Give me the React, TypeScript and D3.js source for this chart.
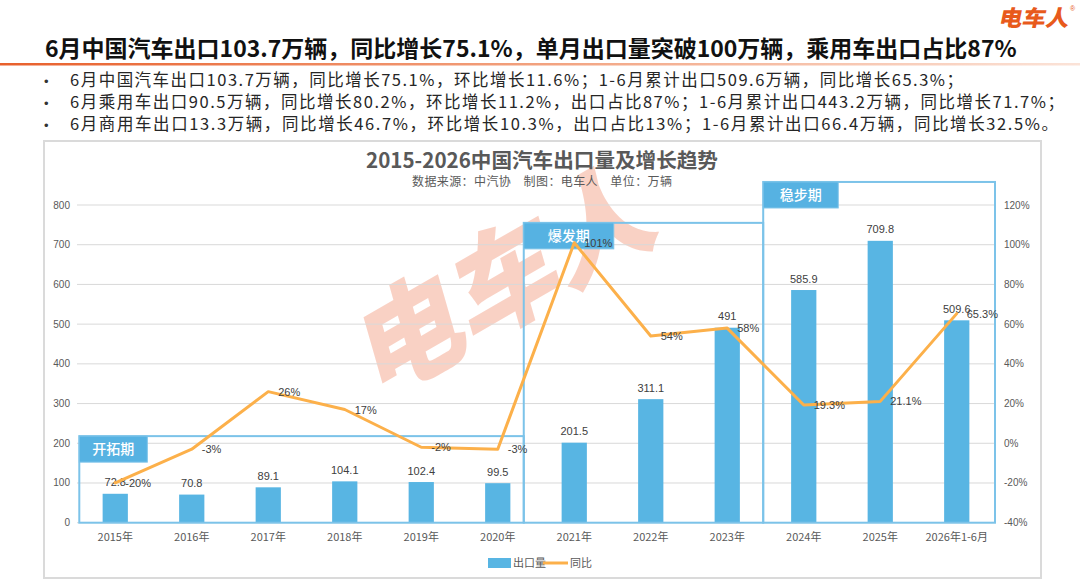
import React from 'react';
import * as d3 from 'd3';

const categories = ['2015年', '2016年', '2017年', '2018年', '2019年', '2020年', '2021年', '2022年', '2023年', '2024年', '2025年', '2026年1-6月'];
const exportVolume = [72.8, 70.8, 89.1, 104.1, 102.4, 99.5, 201.5, 311.1, 491, 585.9, 709.8, 509.6];
const yoyGrowth = [-20, -3, 26, 17, -2, -3, 101, 54, 58, 19.3, 21.1, 65.3];
const yoyLabels = ['-20%', '-3%', '26%', '17%', '-2%', '-3%', '101%', '54%', '58%', '19.3%', '21.1%', '65.3%'];
const leftTicks = [0, 100, 200, 300, 400, 500, 600, 700, 800];
const rightTicks = [-40, -20, 0, 20, 40, 60, 80, 100, 120];
const periodNames = ['开拓期', '爆发期', '稳步期'];
const periodStart = [0.03, 5.84, 8.97];
const periodEnd = [5.84, 8.97, 12];
const periodTop = [218, 755, 858];
const periodTabWidth = [68, 90, 75];

const headline = '6月中国汽车出口103.7万辆，同比增长75.1%，单月出口量突破100万辆，乘用车出口占比87%';
const bullets = [
  '6月中国汽车出口103.7万辆，同比增长75.1%，环比增长11.6%；1-6月累计出口509.6万辆，同比增长65.3%；',
  '6月乘用车出口90.5万辆，同比增长80.2%，环比增长11.2%，出口占比87%；1-6月累计出口443.2万辆，同比增长71.7%；',
  '6月商用车出口13.3万辆，同比增长46.7%，环比增长10.3%，出口占比13%；1-6月累计出口66.4万辆，同比增长32.5%。',
];
const bulletWidths = [893, 994, 988];
const chartTitle = '2015-2026中国汽车出口量及增长趋势';
const chartSubtitle = '数据来源：中汽协    制图：电车人    单位：万辆';

const W = 1080;
const H = 581;
const CJK = '"Noto Sans CJK SC", "Noto Sans", sans-serif';
const LAT = '"Liberation Sans", Arial, sans-serif';
const BAR = '#58B5E3';
const LINE = '#FCB04A';
const BOX = '#7CC3E9';

export default function App() {
  const plotL = 77, plotR = 995, plotT = 205, plotB = 522.7;
  const x = d3.scaleBand<string>().domain(categories).range([plotL, plotR]).paddingInner(0.67).paddingOuter(0.335);
  const u = d3.scaleLinear().domain([0, categories.length]).range([plotL, plotR]);
  const yL = d3.scaleLinear().domain([0, 800]).range([plotB, plotT]);
  const yR = d3.scaleLinear().domain([-40, 120]).range([plotB, plotT]);
  const cx = (i: number) => (x(categories[i]) as number) + x.bandwidth() / 2;
  const linePath = d3.line<number>().x((_, i) => cx(i)).y((d) => yR(d))(yoyGrowth) || '';

  return (
    <svg width={W} height={H} style={{ position: 'fixed', left: 0, top: 0, background: '#fff' }}>
      <defs>
        <linearGradient id="sep" x1="0" x2="1" y1="0" y2="0">
          <stop offset="0" stopColor="#E8602C" />
          <stop offset="0.5" stopColor="#F2A27F" />
          <stop offset="1" stopColor="#FBE3D8" />
        </linearGradient>
      </defs>
      <rect x={0} y={0} width={W} height={H} fill="#fff" />
      {/* logo */}
      <g transform="translate(998,26) skewX(-12)">
        <text x={0} y={0} fontFamily={CJK} fontWeight={900} fontSize={22} fill="#E85A1C" textLength={70} lengthAdjust="spacingAndGlyphs">电车人</text>
      </g>
      <text x={1070} y={11} fontFamily={LAT} fontSize={7} fill="#E85A1C">®</text>
      {/* headline */}
      <text x={45} y={57} fontFamily={CJK} fontWeight={700} fontSize={23} fill="#111">{headline}</text>
      <rect x={0} y={63} width={W} height={2.5} fill="url(#sep)" />
      {bullets.map((b, i) => (
        <g key={i}>
          <text x={44} y={86 + i * 22} fontFamily={LAT} fontSize={13} fill="#333">•</text>
          <text x={70} y={86 + i * 22} fontFamily={CJK} fontSize={16.5} fill="#262626" textLength={bulletWidths[i]} lengthAdjust="spacing">{b}</text>
        </g>
      ))}
      {/* chart frame */}
      <rect x={44} y={141} width={997} height={437} fill="#fff" stroke="#DADADA" strokeWidth={2} />
      {/* watermark */}
      <g transform="translate(508,280) rotate(-30) skewX(-14)" opacity={0.3}>
        <text x={0} y={38} textAnchor="middle" fontFamily={CJK} fontWeight={900} fontSize={110} fill="#EE6A40">电车人</text>
      </g>
      {/* titles */}
      <text x={542} y={168} textAnchor="middle" fontFamily={CJK} fontWeight={700} fontSize={20.6} fill="#595959">{chartTitle}</text>
      <text x={542} y={186} textAnchor="middle" fontFamily={CJK} fontSize={12} fill="#595959" style={{ whiteSpace: 'pre' }} textLength={260} lengthAdjust="spacing">{chartSubtitle}</text>
      {/* grid */}
      {leftTicks.map((t) => (
        <line key={t} x1={plotL} x2={plotR} y1={yL(t)} y2={yL(t)} stroke="#D9D9D9" strokeWidth={1} />
      ))}
      {leftTicks.map((t) => (
        <text key={t} x={70} y={yL(t) + 3.5} textAnchor="end" fontFamily={LAT} fontSize={10} fill="#595959">{t}</text>
      ))}
      {rightTicks.map((t) => (
        <text key={t} x={1004} y={yR(t) + 3.5} fontFamily={LAT} fontSize={10} fill="#595959">{t + '%'}</text>
      ))}
      {/* bars */}
      {exportVolume.map((v, i) => (
        <rect key={i} x={x(categories[i])} y={yL(v)} width={x.bandwidth()} height={yL(0) - yL(v)} fill={BAR} />
      ))}
      {/* period boxes */}
      {periodNames.map((n, i) => {
        const x0 = u(periodStart[i]);
        const x1 = u(periodEnd[i]);
        const yt = yL(periodTop[i]);
        return (
          <g key={n}>
            <rect x={x0} y={yt} width={x1 - x0} height={plotB - yt} fill="none" stroke={BOX} strokeWidth={2} />
            <rect x={x0} y={yt} width={periodTabWidth[i]} height={26} fill="#56B2E2" stroke="#7CC3E9" strokeWidth={1} />
            <text x={x0 + periodTabWidth[i] / 2} y={yt + 18} textAnchor="middle" fontFamily={CJK} fontWeight={500} fontSize={14} fill="#fff">{n}</text>
          </g>
        );
      })}
      {/* bar labels */}
      {exportVolume.map((v, i) => (
        <text key={i} x={cx(i)} y={yL(v) - 7.5} textAnchor="middle" fontFamily={LAT} fontSize={11} fill="#404040">{String(v)}</text>
      ))}
      {/* line */}
      <path d={linePath} fill="none" stroke={LINE} strokeWidth={3} strokeLinejoin="round" strokeLinecap="round" />
      {yoyGrowth.map((g, i) => (
        <text key={i} x={cx(i) + 10} y={yR(g) + 4} fontFamily={LAT} fontSize={11} fill="#404040">{yoyLabels[i]}</text>
      ))}
      {/* x labels */}
      {categories.map((c, i) => (
        <text key={c} x={cx(i)} y={541} textAnchor="middle" fontFamily={CJK} fontSize={11} fill="#595959">{c}</text>
      ))}
      {/* legend */}
      <rect x={488} y={558} width={23} height={10} fill={BAR} />
      <text x={513} y={567} fontFamily={CJK} fontSize={11} fill="#595959">出口量</text>
      <line x1={543} x2={568} y1={563} y2={563} stroke={LINE} strokeWidth={3} />
      <text x={570} y={567} fontFamily={CJK} fontSize={11} fill="#595959">同比</text>
    </svg>
  );
}
